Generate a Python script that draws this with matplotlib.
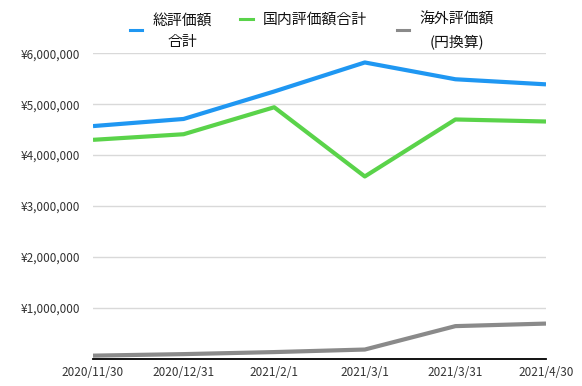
import matplotlib.pyplot as plt
from matplotlib.lines import Line2D
from matplotlib.ticker import FuncFormatter

plt.rcParams['font.family'] = ['Noto Sans CJK JP', 'DejaVu Sans']

# データ
dates = ['2020/11/30', '2020/12/31', '2021/2/1', '2021/3/1', '2021/3/31', '2021/4/30']
total = [4570000, 4710000, 5250000, 5820000, 5490000, 5390000]
domestic = [4300000, 4410000, 4940000, 3580000, 4700000, 4660000]
overseas = [60000, 90000, 130000, 180000, 640000, 690000]
labels = ['総評価額\n合計', '国内評価額合計', '海外評価額\n(円換算)']
colors = ['#1f97f2', '#5ad34a', '#8a8a8a']

W, H = 582, 386
fig = plt.figure(figsize=(W / 100, H / 100), dpi=100)
ax = fig.add_axes([93 / W, 1 - 358.7 / H, 453 / W, 305.4 / H])

x = range(len(dates))
for serie, lab, col in zip([total, domestic, overseas], labels, colors):
    ax.plot(x, serie, color=col, linewidth=3, label=lab, solid_capstyle='butt')

ax.set_xlim(0, len(dates) - 1)
ax.set_ylim(0, 6000000)
ax.set_yticks([1000000, 2000000, 3000000, 4000000, 5000000, 6000000])
ax.yaxis.set_major_formatter(FuncFormatter(lambda v, p: f'¥{int(v):,}'))
ax.set_xticks(list(x))
ax.set_xticklabels(dates)

ax.grid(axis='y', color='#d9d9d9', linewidth=1)
ax.set_axisbelow(True)
for s in ['left', 'right', 'top']:
    ax.spines[s].set_visible(False)
ax.spines['bottom'].set_color('black')
ax.spines['bottom'].set_linewidth(1.3)
ax.tick_params(length=0, labelsize=8.5, colors='#333333', pad=5)
ax.tick_params(axis='y', pad=9)

# 凡例（手描き）: ハンドル位置 (x0, x1, y) とテキスト位置 (x, y, ha) をピクセルで
handles = [(130, 142, 30), (240, 253, 19), (397, 409, 30)]
texts = [(182.5, 31, 'center'), (263, 20, 'left'), (456.5, 31, 'center')]
for (x0, x1, hy), (tx, ty, ha), lab, col in zip(handles, texts, labels, colors):
    fig.add_artist(Line2D([x0 / W, x1 / W], [1 - hy / H, 1 - hy / H],
                          transform=fig.transFigure, color=col, linewidth=2.2))
    fig.text(tx / W, 1 - ty / H, lab, ha=ha, va='center', fontsize=10.7,
             color='#111111', multialignment='center', linespacing=1.65)

fig.savefig('out.png', dpi=100)
